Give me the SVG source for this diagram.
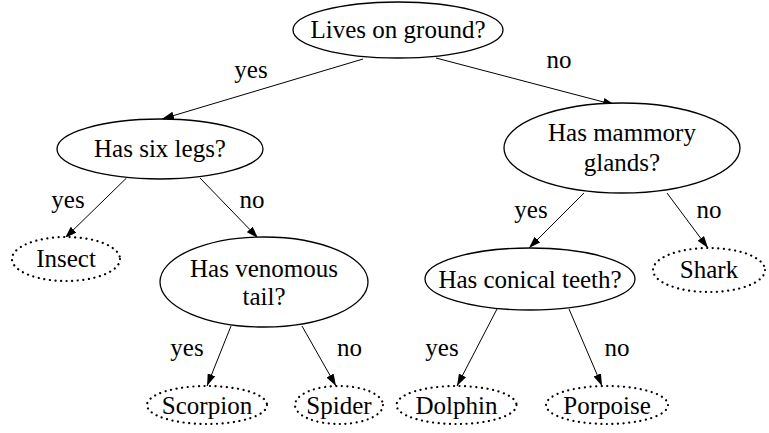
<svg xmlns="http://www.w3.org/2000/svg" width="769" height="433" viewBox="0 0 769 433" font-family="Liberation Serif, Times New Roman, serif">
  <style>
    text { font-size: 25px; fill: #000; text-anchor: middle; }
    .q { fill: #fff; stroke: #000; stroke-width: 1.3; }
    .leaf { fill: #fff; stroke: #000; stroke-width: 2.2; stroke-dasharray: 0.1 5.5; stroke-linecap: round; }
    .edge { stroke: #000; stroke-width: 1; fill: none; marker-end: url(#arrow); }
  </style>
  <defs>
    <marker id="arrow" viewBox="0 0 12 8" refX="12" refY="4" markerWidth="12" markerHeight="8" markerUnits="userSpaceOnUse" orient="auto">
      <path d="M0,0 L12,4 L0,8 Z" fill="#000"/>
    </marker>
  </defs>
  <rect width="769" height="433" fill="#fff"/>

  <g id="connectors">
    <line class="edge" x1="363" y1="59" x2="162" y2="119"/>
    <line class="edge" x1="436" y1="58" x2="615" y2="105"/>
    <line class="edge" x1="126.5" y1="178" x2="65" y2="238"/>
    <line class="edge" x1="200" y1="178" x2="258" y2="238"/>
    <line class="edge" x1="584" y1="193" x2="529" y2="248"/>
    <line class="edge" x1="667" y1="193" x2="708" y2="248"/>
    <line class="edge" x1="231" y1="326" x2="207" y2="386"/>
    <line class="edge" x1="302" y1="326" x2="336" y2="386"/>
    <line class="edge" x1="497" y1="309" x2="457" y2="386"/>
    <line class="edge" x1="569" y1="309" x2="602" y2="386"/>
    <text x="251" y="78">yes</text>
    <text x="559" y="68">no</text>
    <text x="68" y="208">yes</text>
    <text x="252" y="208">no</text>
    <text x="531" y="218">yes</text>
    <text x="709" y="218">no</text>
    <text x="187" y="356">yes</text>
    <text x="349.5" y="356">no</text>
    <text x="442" y="356">yes</text>
    <text x="617" y="356">no</text>
  </g>

  <g id="lives-on-ground">
    <ellipse class="q" cx="398" cy="30" rx="105" ry="28"/>
    <text x="398" y="38">Lives on ground?</text>
  </g>
  <g id="has-six-legs">
    <ellipse class="q" cx="160" cy="149" rx="103" ry="30"/>
    <text x="160" y="157">Has six legs?</text>
  </g>
  <g id="has-mammory-glands">
    <ellipse class="q" cx="622" cy="148" rx="118" ry="45"/>
    <text x="622" y="141">Has mammory</text>
    <text x="622" y="171">glands?</text>
  </g>
  <g id="insect">
    <ellipse class="leaf" cx="66" cy="259" rx="54" ry="22"/>
    <text x="66" y="267">Insect</text>
  </g>
  <g id="has-venomous-tail">
    <ellipse class="q" cx="264" cy="282" rx="104" ry="45"/>
    <text x="264" y="277">Has venomous</text>
    <text x="264" y="305">tail?</text>
  </g>
  <g id="has-conical-teeth">
    <ellipse class="q" cx="530" cy="279" rx="105" ry="31"/>
    <text x="530" y="288">Has conical teeth?</text>
  </g>
  <g id="shark">
    <ellipse class="leaf" cx="709" cy="270" rx="56" ry="22"/>
    <text x="709" y="278">Shark</text>
  </g>
  <g id="scorpion">
    <ellipse class="leaf" cx="207" cy="405" rx="60" ry="19"/>
    <text x="207" y="414">Scorpion</text>
  </g>
  <g id="spider">
    <ellipse class="leaf" cx="339" cy="405" rx="44" ry="19"/>
    <text x="339" y="414">Spider</text>
  </g>
  <g id="dolphin">
    <ellipse class="leaf" cx="456.5" cy="405" rx="60" ry="19"/>
    <text x="456.5" y="414">Dolphin</text>
  </g>
  <g id="porpoise">
    <ellipse class="leaf" cx="607" cy="405" rx="61" ry="19"/>
    <text x="607" y="414">Porpoise</text>
  </g>
</svg>
